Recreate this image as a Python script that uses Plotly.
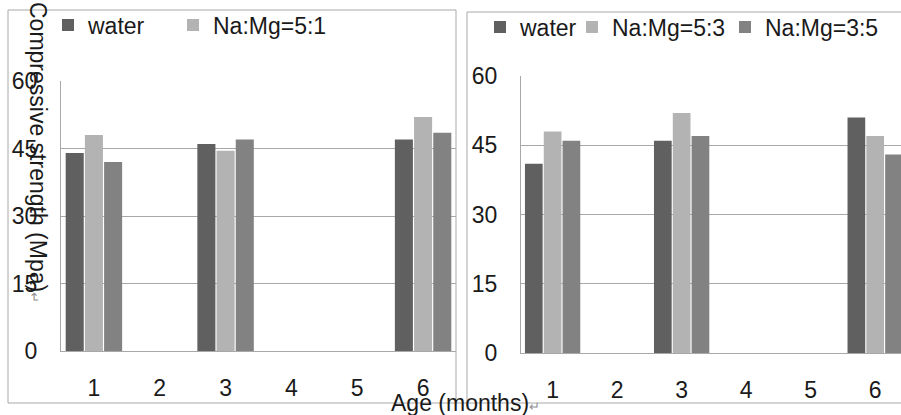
import plotly.graph_objects as go

W, H = 901, 415

# ---- data ----
ages = [1, 2, 3, 4, 5, 6]
age_labels = ["1", "2", "3", "4", "5", "6"]
# months 2, 4 and 5 have no bars (None)
left_water = [44, None, 46, None, None, 47]
left_na51 = [48, None, 44.5, None, None, 52]
left_third = [42, None, 47, None, None, 48.5]
right_water = [41, None, 46, None, None, 51]
right_na53 = [48, None, 52, None, None, 47]
right_na35 = [46, None, 47, None, None, 43]
y_ticks = [0, 15, 30, 45, 60]
y_labels = ["0", "15", "30", "45", "60"]

C_DARK = "#606060"
C_LIGHT = "#b3b3b3"
C_MID = "#828282"
GRID = "#a8a8a8"
FONT = "Liberation Sans, Arial, sans-serif"
TXT = "#1a1a1a"
FS = 23


def px(x):
    return x / W


def py(y):
    return 1 - y / H


fig = go.Figure()

# left chart
fig.add_trace(go.Bar(x=ages, y=left_water, name="water", marker_color=C_DARK,
                     xaxis="x", yaxis="y", legend="legend", marker_line_width=0))
fig.add_trace(go.Bar(x=ages, y=left_na51, name="Na:Mg=5:1", marker_color=C_LIGHT,
                     xaxis="x", yaxis="y", legend="legend3", marker_line_width=0))
fig.add_trace(go.Bar(x=ages, y=left_third, name="series 3", marker_color=C_MID,
                     xaxis="x", yaxis="y", showlegend=False, marker_line_width=0))

# right chart
fig.add_trace(go.Bar(x=ages, y=right_water, name="water", marker_color=C_DARK,
                     xaxis="x2", yaxis="y2", legend="legend2", marker_line_width=0))
fig.add_trace(go.Bar(x=ages, y=right_na53, name="Na:Mg=5:3", marker_color=C_LIGHT,
                     xaxis="x2", yaxis="y2", legend="legend4", marker_line_width=0))
fig.add_trace(go.Bar(x=ages, y=right_na35, name="Na:Mg=3:5", marker_color=C_MID,
                     xaxis="x2", yaxis="y2", legend="legend5", marker_line_width=0))

xcommon = dict(tickmode="array", tickvals=ages, ticktext=age_labels,
               showgrid=False, showline=True, linecolor=GRID, linewidth=1,
               ticks="outside", ticklen=16, tickcolor="rgba(0,0,0,0)",
               tickfont=dict(family=FONT, size=FS, color=TXT), zeroline=False,
               fixedrange=True)
ycommon = dict(range=[0, 60], tickmode="array", tickvals=y_ticks, ticktext=y_labels,
               showgrid=True, gridcolor=GRID, gridwidth=1, showline=True,
               linecolor=GRID, linewidth=1, ticks="outside", ticklen=18,
               tickcolor="rgba(0,0,0,0)", zeroline=False,
               tickfont=dict(family=FONT, size=FS, color=TXT), fixedrange=True)

legfont = dict(family=FONT, size=FS, color=TXT)


def leg(xp, yp):
    return dict(orientation="h", x=px(xp), y=py(yp), xanchor="left", yanchor="middle",
                font=legfont, bgcolor="rgba(0,0,0,0)")


fig.update_layout(
    width=W, height=H,
    margin=dict(l=0, r=0, t=0, b=0, autoexpand=False),
    paper_bgcolor="white", plot_bgcolor="white",
    barmode="group", bargap=0.125, bargroupgap=0.06,
    xaxis=dict(domain=[px(61), px(456)], range=[0.5, 6.5], anchor="y", **xcommon),
    yaxis=dict(domain=[py(351), py(81)], anchor="x", **ycommon),
    xaxis2=dict(domain=[px(521), 1.0], range=[0.51, 6.40], anchor="y2", **xcommon),
    yaxis2=dict(domain=[py(353), py(76)], anchor="x2", **ycommon),
    legend=leg(48, 25),
    legend3=leg(173, 25),
    legend2=leg(480, 27),
    legend4=leg(572, 27),
    legend5=leg(725, 27),
    showlegend=True,
)

# panel frames
shapes = [
    dict(type="rect", xref="paper", yref="paper", x0=px(8), x1=px(456), y0=py(403), y1=py(10),
         line=dict(color=GRID, width=1), fillcolor="rgba(0,0,0,0)", layer="below"),
    dict(type="line", xref="paper", yref="paper", x0=px(467), x1=px(467), y0=py(403), y1=py(12),
         line=dict(color=GRID, width=1)),
    dict(type="line", xref="paper", yref="paper", x0=px(467), x1=1.0, y0=py(12), y1=py(12),
         line=dict(color=GRID, width=1)),
    dict(type="line", xref="paper", yref="paper", x0=px(456), x1=1.0, y0=py(403), y1=py(403),
         line=dict(color=GRID, width=1)),
]
fig.update_layout(shapes=shapes)

arrow = '<span style="font-size:13px;color:#909090">↵</span>'
fig.add_annotation(xref="paper", yref="paper", x=px(38), y=py(152), xanchor="center",
                   yanchor="middle", textangle=90, showarrow=False,
                   text="Compressive strength (Mpa)" + arrow,
                   font=dict(family=FONT, size=FS, color=TXT))
fig.add_annotation(xref="paper", yref="paper", x=px(389), y=py(403), xanchor="left",
                   yanchor="middle", showarrow=False,
                   text="Age (months)" + arrow,
                   font=dict(family=FONT, size=FS, color=TXT))

fig.write_html("out.html")
